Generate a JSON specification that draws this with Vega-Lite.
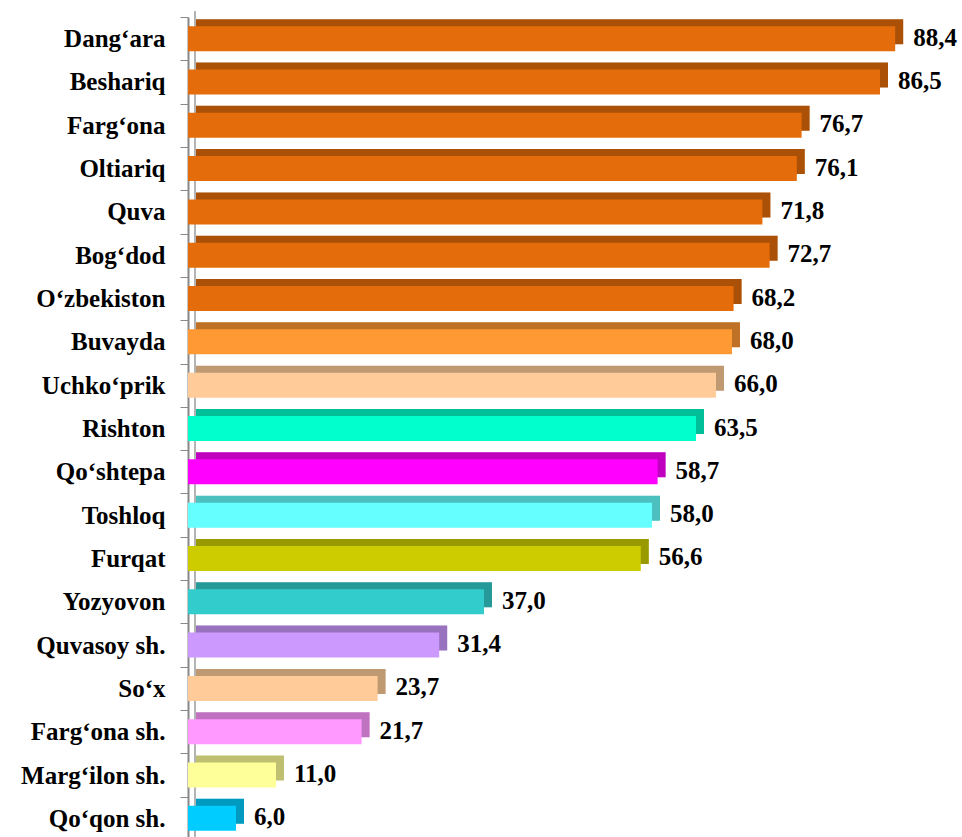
{
  "$schema": "https://vega.github.io/schema/vega-lite/v6.json",
  "autosize": "none",
  "padding": {"left": 188, "top": 17, "right": 0, "bottom": 0},
  "width": 770,
  "height": 823,
  "background": "white",
  "config": {
    "view": {"stroke": null},
    "font": "Liberation Serif",
    "locale": {"number": {"decimal": ",", "thousands": " ", "grouping": [3], "currency": ["", ""]}}
  },
  "data": {"values": [
    {"hudud": "Dang‘ara", "qiymat": 88.4},
    {"hudud": "Beshariq", "qiymat": 86.5},
    {"hudud": "Farg‘ona", "qiymat": 76.7},
    {"hudud": "Oltiariq", "qiymat": 76.1},
    {"hudud": "Quva", "qiymat": 71.8},
    {"hudud": "Bog‘dod", "qiymat": 72.7},
    {"hudud": "O‘zbekiston", "qiymat": 68.2},
    {"hudud": "Buvayda", "qiymat": 68.0},
    {"hudud": "Uchko‘prik", "qiymat": 66.0},
    {"hudud": "Rishton", "qiymat": 63.5},
    {"hudud": "Qo‘shtepa", "qiymat": 58.7},
    {"hudud": "Toshloq", "qiymat": 58.0},
    {"hudud": "Furqat", "qiymat": 56.6},
    {"hudud": "Yozyovon", "qiymat": 37.0},
    {"hudud": "Quvasoy sh.", "qiymat": 31.4},
    {"hudud": "So‘x", "qiymat": 23.7},
    {"hudud": "Farg‘ona sh.", "qiymat": 21.7},
    {"hudud": "Marg‘ilon sh.", "qiymat": 11.0},
    {"hudud": "Qo‘qon sh.", "qiymat": 6.0}
  ]},
  "encoding": {
    "y": {
      "field": "hudud", "type": "nominal", "sort": null,
      "scale": {"paddingInner": 0, "paddingOuter": 0},
      "axis": {
        "title": null,
        "labelFont": "Liberation Serif", "labelFontWeight": "bold", "labelFontSize": 25,
        "labelColor": "black", "labelPadding": 15,
        "tickSize": 8, "tickColor": "#888888", "tickBand": "extent",
        "domainColor": "#888888", "domainWidth": 2
      }
    },
    "x": {"field": "qiymat", "type": "quantitative", "scale": {"domain": [0, 96.25]}, "axis": null}
  },
  "layer": [
    {
      "mark": {"type": "rule", "color": "#b4b4b4", "strokeWidth": 2, "xOffset": 7, "yOffset": -6},
      "encoding": {"x": {"datum": 0}, "y": null}
    },
    {
      "mark": {"type": "bar", "height": 25, "yOffset": -7, "xOffset": 8, "x2Offset": 0},
      "encoding": {
        "color": {
          "field": "hudud", "type": "nominal", "legend": null,
          "scale": {
            "domain": ["Dang‘ara", "Beshariq", "Farg‘ona", "Oltiariq", "Quva", "Bog‘dod", "O‘zbekiston", "Buvayda", "Uchko‘prik", "Rishton", "Qo‘shtepa", "Toshloq", "Furqat", "Yozyovon", "Quvasoy sh.", "So‘x", "Farg‘ona sh.", "Marg‘ilon sh.", "Qo‘qon sh."],
            "range": ["#E46C0A", "#E46C0A", "#E46C0A", "#E46C0A", "#E46C0A", "#E46C0A", "#E46C0A", "#FF9933", "#FFCC99", "#00FFCC", "#FF00FF", "#66FFFF", "#CCCC00", "#33CCCC", "#CC99FF", "#FFCC99", "#FF99FF", "#FFFF99", "#00CCFF"]
          }
        }
      }
    },
    {
      "mark": {"type": "bar", "height": 25, "yOffset": -7, "xOffset": 8, "x2Offset": 0, "color": "black", "opacity": 0.25},
      "encoding": {}
    },
    {
      "mark": {"type": "bar", "height": 25},
      "encoding": {
        "color": {"field": "hudud", "type": "nominal", "legend": null}
      }
    },
    {
      "mark": {"type": "text", "align": "left", "baseline": "middle", "dx": 18, "dy": -1, "font": "Liberation Serif", "fontWeight": "bold", "fontSize": 25, "color": "black"},
      "encoding": {
        "text": {"field": "qiymat", "type": "quantitative", "format": ".1f"}
      }
    }
  ]
}
